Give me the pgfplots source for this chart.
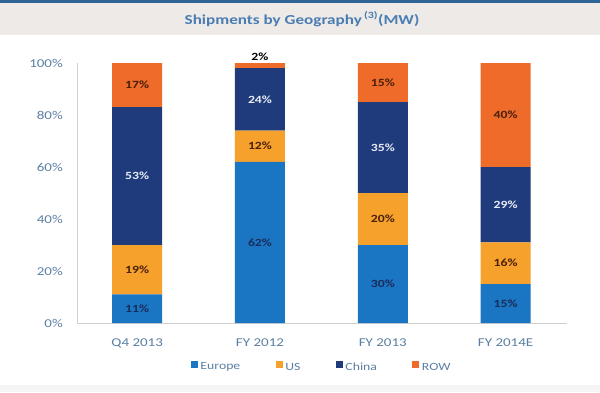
\documentclass[border=0pt]{standalone}
\usepackage{fontspec}
\setmainfont{Carlito}[FakeStretch=1.25]
\usepackage{pgfplots}
\pgfplotsset{compat=1.18}
\definecolor{europe}{HTML}{1A75C2}
\definecolor{us}{HTML}{F5A12B}
\definecolor{china}{HTML}{1F3B7B}
\definecolor{rowc}{HTML}{EF6B2A}
\definecolor{ticktext}{HTML}{5B7FA3}
\definecolor{titleblue}{HTML}{4A7DB3}
\definecolor{band}{HTML}{EEEAE7}
\definecolor{topline}{HTML}{2F6594}
\definecolor{axisgray}{HTML}{D0D0D0}
\definecolor{lblnavy}{HTML}{1A2C5C}
\definecolor{lblbrown}{HTML}{4A200C}
\definecolor{lblwhite}{HTML}{E8ECF6}
\begin{document}
\begin{tikzpicture}[x=1pt,y=1pt]
\path[use as bounding box] (0,0) rectangle (600,392);
\fill[white] (0,0) rectangle (600,392);
\fill[gray!8] (0,0) rectangle (600,7);
\fill[band] (0,357) rectangle (600,389);
\fill[topline] (0,389) rectangle (600,392);
\node[font=\fontsize{13.7}{15}\selectfont\bfseries, text=titleblue] at (302,373) {Shipments by Geography\,\textsuperscript{(3)}(MW)};
\begin{axis}[
  at={(77pt,69pt)}, anchor=south west,
  scale only axis, width=490pt, height=260pt,
  xmin=-0.49, xmax=3.5, ymin=0, ymax=100,
  ybar stacked, bar width=50pt,
  axis x line*=bottom, axis y line*=left,
  axis line style={draw=axisgray, line width=0.8pt, -},
  major tick length=0pt,
  xtick={0,1,2,3},
  xticklabels={Q4 2013, FY 2012, FY 2013, FY 2014E},
  ytick={0,20,40,60,80,100},
  yticklabel={\pgfmathprintnumber{\tick}\%},
  /pgf/number format/assume math mode=true,
  tick label style={text=ticktext, font=\fontsize{12}{14}\selectfont, inner sep=0pt},
  yticklabel style={anchor=east, xshift=-14pt},
  xticklabel style={anchor=center, yshift=-20pt},
  legend style={at={(0.5,-0.17)}, anchor=center, draw=none, fill=none,
    legend columns=4, font=\fontsize{11}{13}\selectfont, text=ticktext,
    nodes={inner xsep=2.5pt},
    /tikz/every even column/.append style={column sep=33pt}},
  legend cell align=left,
  legend image code/.code={\fill[#1] (0pt,-0.5pt) rectangle (7pt,6.5pt);},
]
\addplot[fill=europe, draw=none] coordinates {(0,11) (1,62) (2,30) (3,15)};
\addplot[fill=us, draw=none] coordinates {(0,19) (1,12) (2,20) (3,16)};
\addplot[fill=china, draw=none] coordinates {(0,53) (1,24) (2,35) (3,29)};
\addplot[fill=rowc, draw=none] coordinates {(0,17) (1,2) (2,15) (3,40)};
\legend{Europe, US, China, ROW}
\end{axis}
\begin{axis}[
  at={(77pt,69pt)}, anchor=south west,
  scale only axis, width=490pt, height=260pt,
  xmin=-0.49, xmax=3.5, ymin=0, ymax=100,
  hide axis, clip=false,
  /pgf/number format/assume math mode=true,
  nodes near coords={\pgfmathprintnumber{\pgfplotspointmeta}\%},
  point meta=explicit,
  every node near coord/.append style={anchor=center, font=\fontsize{11}{13}\selectfont\bfseries, inner sep=0pt},
]
\addplot[draw=none, mark=none, nodes near coords style={text=lblnavy}] table[meta=v] {
x y v
0 5.5 11
1 31 62
2 15 30
3 7.5 15
};
\addplot[draw=none, mark=none, nodes near coords style={text=lblbrown}] table[meta=v] {
x y v
0 20.5 19
1 68 12
2 40 20
3 23 16
};
\addplot[draw=none, mark=none, nodes near coords style={text=lblwhite}] table[meta=v] {
x y v
0 56.5 53
1 86 24
2 67.5 35
3 45.5 29
};
\addplot[draw=none, mark=none, nodes near coords style={text=lblbrown}] table[meta=v] {
x y v
0 91.5 17
2 92.5 15
3 80 40
};
\addplot[draw=none, mark=none, nodes near coords style={text=black}] table[meta=v] {
x y v
1 102.4 2
};
\end{axis}
\end{tikzpicture}
\end{document}
